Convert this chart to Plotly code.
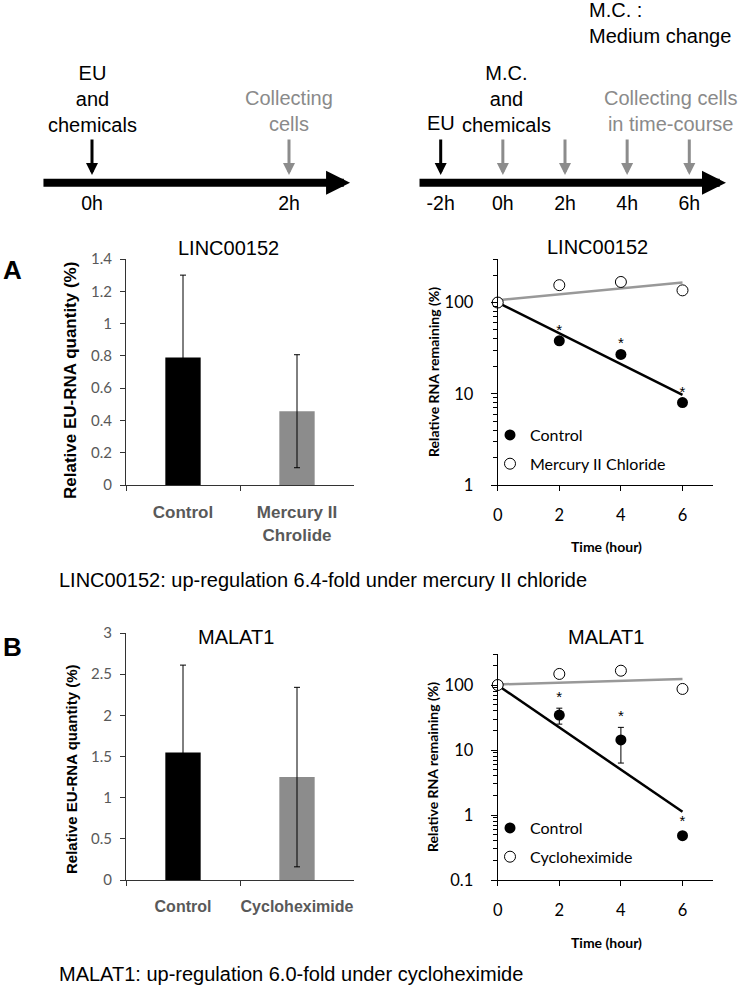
import plotly.graph_objects as go

W, H = 740, 986
ARIAL = "Liberation Sans, Arial, sans-serif"
CALI = "Lato, Carlito, sans-serif"
BLACK = "#000000"
GRAY = "#8c8c8c"
TICKGRAY = "#595959"

# ---------------- data ----------------
# timelines
timeline_A_hours = [0, 2]
timeline_A_ticks = ["0h", "2h"]
timeline_A_labels = ["EU<br>and<br>chemicals", "Collecting<br>cells"]
timeline_A_colors = [BLACK, GRAY]

timeline_B_hours = [-2, 0, 2, 4, 6]
timeline_B_ticks = ["-2h", "0h", "2h", "4h", "6h"]
timeline_B_colors = [BLACK, GRAY, GRAY, GRAY, GRAY]

# bar charts
bar_categories_A = ["Control", "Mercury II<br>Chrolide"]
bar_values_A = [0.79, 0.457]
bar_err_A = [0.51, 0.35]

bar_categories_B = ["Control", "Cycloheximide"]
bar_values_B = [1.55, 1.25]
bar_err_B = [1.06, 1.09]

# decay curves
time_hours = [0, 2, 4, 6]
stars = ["", "*", "*", "*"]
A_control = [100, 38, 27, 8.0]
A_control_err = [0, 0, 0, 0]
A_mercury = [100, 155, 168, 136]
trend_x = [0, 6]
A_control_trend = [100, 9.7]
A_mercury_trend = [106, 166]

B_control = [100, 34.5, 14.3, 0.48]
B_control_err = [0, 9.5, 8.0, 0.06]
B_cyclo = [100, 148, 166, 87]
B_control_trend = [99, 1.12]
B_cyclo_trend = [102, 124]


def fx(px):
    return px / W


def fy(py):
    return 1 - py / H


fig = go.Figure()

# ---------------- bar charts ----------------
for cats, vals, errs, xa, ya in [
    (bar_categories_A, bar_values_A, bar_err_A, "x", "y"),
    (bar_categories_B, bar_values_B, bar_err_B, "x3", "y3"),
]:
    fig.add_trace(go.Bar(
        x=cats, y=vals, xaxis=xa, yaxis=ya, showlegend=False,
        marker=dict(color=[BLACK, GRAY], line=dict(width=0)),
        error_y=dict(type="data", array=errs, color="black", thickness=1, width=3),
    ))

# ---------------- decay curves ----------------
def add_decay(xa, ya, ctrl, ctrl_err, show_err, other, ctrl_tr, other_tr, other_name, legend):
    fig.add_trace(go.Scatter(x=trend_x, y=ctrl_tr, mode="lines", xaxis=xa, yaxis=ya,
                             line=dict(color="black", width=2.5), showlegend=False,
                             hoverinfo="skip"))
    fig.add_trace(go.Scatter(x=trend_x, y=other_tr, mode="lines", xaxis=xa, yaxis=ya,
                             line=dict(color="#999999", width=2.5), showlegend=False,
                             hoverinfo="skip"))
    fig.add_trace(go.Scatter(
        x=time_hours, y=ctrl, mode="markers", name="Control", xaxis=xa, yaxis=ya,
        legend=legend, legendgroup=legend + "c", cliponaxis=False,
        marker=dict(symbol="circle", size=11, color="black"),
        error_y=dict(type="data", array=ctrl_err, color="black", thickness=1, width=3,
                     visible=show_err),
    ))
    fig.add_trace(go.Scatter(
        x=time_hours, y=other, mode="markers", name=other_name, xaxis=xa, yaxis=ya,
        legend=legend, legendgroup=legend + "o", cliponaxis=False,
        marker=dict(symbol="circle", size=11, color="white", line=dict(color="black", width=1)),
    ))
    # significance stars sit just above each control point / its error bar
    star_y = [v + e for v, e in zip(ctrl, ctrl_err)]
    fig.add_trace(go.Scatter(
        x=time_hours, y=star_y, mode="markers+text", text=stars, textposition="top center",
        textfont=dict(family=ARIAL, size=15, color="black"), xaxis=xa, yaxis=ya,
        marker=dict(size=2, color="rgba(0,0,0,0)"), showlegend=False, cliponaxis=False,
        hoverinfo="skip",
    ))


add_decay("x2", "y2", A_control, A_control_err, False, A_mercury, A_control_trend,
          A_mercury_trend, "Mercury II Chloride", "legend")
add_decay("x4", "y4", B_control, B_control_err, True, B_cyclo, B_control_trend,
          B_cyclo_trend, "Cycloheximide", "legend2")

# ---------------- timelines ----------------
fig.add_trace(go.Scatter(x=timeline_A_hours, y=[205] * len(timeline_A_hours), mode="text",
                         text=timeline_A_ticks, xaxis="x5", yaxis="y5", showlegend=False,
                         textfont=dict(family=ARIAL, size=19.5, color="black"),
                         hoverinfo="skip"))
fig.add_trace(go.Scatter(x=timeline_B_hours, y=[205] * len(timeline_B_hours), mode="text",
                         text=timeline_B_ticks, xaxis="x6", yaxis="y6", showlegend=False,
                         textfont=dict(family=ARIAL, size=19.5, color="black"),
                         hoverinfo="skip"))

annotations = []

# main arrows
for xr, yr, x0, x1 in [("x5", "y5", -0.508, 2.62), ("x6", "y6", -2.73, 7.18)]:
    annotations.append(dict(
        x=x1, y=182.7, xref=xr, yref=yr, ax=x0, ay=182.7, axref=xr, ayref=yr,
        text="", showarrow=True, arrowhead=2, arrowsize=0.6, arrowwidth=8,
        arrowcolor="black", standoff=0, startstandoff=0))

# small down arrows
for xr, yr, hrs, cols in [("x5", "y5", timeline_A_hours, timeline_A_colors),
                          ("x6", "y6", timeline_B_hours, timeline_B_colors)]:
    for h, c in zip(hrs, cols):
        annotations.append(dict(
            x=h, y=175, xref=xr, yref=yr, ax=0, ay=-37, text="", showarrow=True,
            arrowhead=2, arrowsize=0.8, arrowwidth=3, arrowcolor=c, standoff=0))

tl_font = dict(family=ARIAL, size=20, color="black")
tl_gray = dict(family=ARIAL, size=20, color="#8a8a8a")
annotations += [
    dict(x=timeline_A_hours[0], y=98.5, xref="x5", yref="y5", text=timeline_A_labels[0],
         showarrow=False, font=tl_font, align="center"),
    dict(x=timeline_A_hours[1], y=111, xref="x5", yref="y5", text=timeline_A_labels[1],
         showarrow=False, font=tl_gray, align="center"),
    dict(x=-2, y=123, xref="x6", yref="y6", text="EU", showarrow=False, font=tl_font),
    dict(x=0.13, y=99, xref="x6", yref="y6", text="M.C.<br>and<br>chemicals",
         showarrow=False, font=tl_font, align="center"),
    dict(x=5.41, y=110.7, xref="x6", yref="y6", text="Collecting cells<br>in time-course",
         showarrow=False, font=tl_gray, align="center"),
    dict(x=2.71, y=23, xref="x6", yref="y6", text="M.C. :<br>Medium change",
         showarrow=False, font=tl_font, align="left", xanchor="left"),
]


def ptext(x, y, text, font, **kw):
    d = dict(x=fx(x), y=fy(y), xref="paper", yref="paper", text=text, showarrow=False,
             font=font, xanchor="center", yanchor="middle")
    d.update(kw)
    return d


# titles / labels
title_font = dict(family=ARIAL, size=20, color="black")
small_bold = dict(family=CALI, size=14, color="black")
annotations += [
    ptext(228, 248, "LINC00152", title_font),
    ptext(597, 247, "LINC00152", title_font),
    ptext(236, 637, "MALAT1", title_font),
    ptext(606, 637, "MALAT1", title_font),
    ptext(12, 270, "<b>A</b>", dict(family=ARIAL, size=26, color="black")),
    ptext(12, 647, "<b>B</b>", dict(family=ARIAL, size=26, color="black")),
    ptext(57, 580, "LINC00152: up-regulation 6.4-fold under mercury II chloride",
          dict(family=ARIAL, size=20, color="black"), xanchor="left"),
    ptext(57, 974, "MALAT1: up-regulation 6.0-fold under cycloheximide",
          dict(family=ARIAL, size=20, color="black"), xanchor="left"),
    # axis titles
    ptext(70, 381, "<b>Relative EU-RNA quantity (%)</b>",
          dict(family=ARIAL, size=17, color="black"), textangle=-90),
    ptext(71, 770, "<b>Relative EU-RNA quantity (%)</b>",
          dict(family=ARIAL, size=15, color="black"), textangle=-90),
    ptext(433, 372, "<b>Relative RNA remaining (%)</b>", small_bold, textangle=-90),
    ptext(432, 767, "<b>Relative RNA remaining (%)</b>", small_bold, textangle=-90),
    ptext(606, 546, "<b>Time (hour)</b>", small_bold),
    ptext(606, 942, "<b>Time (hour)</b>", small_bold),
]

# ---------------- axes ----------------
bar_x_dom = [fx(126), fx(354)]
line_x_dom = [fx(497.7), fx(713.3)]
A_dom = [fy(485), fy(259)]
B_bar_dom = [fy(880), fy(633)]
B_line_dom = [fy(880), fy(654)]


def bar_xaxis(anchor, size):
    return dict(domain=bar_x_dom, anchor=anchor, showline=True, linecolor="#333333",
                linewidth=1, ticks="outside", ticklen=5, tickcolor="#333333",
                tickson="boundaries", showgrid=False, zeroline=False, tickangle=0,
                tickfont=dict(family=ARIAL, size=size, color=TICKGRAY, weight="bold"),
                ticklabelstandoff=12, fixedrange=True, automargin=False)


def bar_yaxis(anchor, dom, rng, dt):
    return dict(domain=dom, anchor=anchor, range=rng, dtick=dt, showline=True,
                linecolor="#333333", linewidth=1, ticks="outside", ticklen=5,
                tickcolor="#333333", showgrid=False, zeroline=False,
                tickfont=dict(family=CALI, size=15, color=TICKGRAY),
                ticklabelstandoff=5, fixedrange=True, automargin=False)


def minor_vals(lo_exp, hi):
    vals = []
    for e in range(lo_exp, 3):
        for m in range(2, 10):
            v = m * 10 ** e
            if v <= hi:
                vals.append(v)
    return vals


def line_xaxis(anchor):
    return dict(domain=line_x_dom, anchor=anchor, range=[0, 7], dtick=2, tick0=0,
                showline=True, linecolor="black", linewidth=1.2, ticks="outside",
                ticklen=5, tickcolor="black", showgrid=False, zeroline=False,
                tickfont=dict(family=CALI, size=16.5, color="black"),
                ticklabelstandoff=10, fixedrange=True, automargin=False)


def line_yaxis(anchor, dom, lo_exp, tickv):
    return dict(domain=dom, anchor=anchor, type="log", range=[lo_exp, 2.4771],
                tickmode="array", tickvals=tickv, ticktext=[str(v) for v in tickv],
                showline=True, linecolor="black", linewidth=1.2, ticks="outside",
                ticklen=6, tickcolor="black", showgrid=False, zeroline=False,
                minor=dict(tickmode="array", tickvals=minor_vals(lo_exp, 300),
                           ticks="outside", ticklen=4, tickcolor="black", tickwidth=1,
                           showgrid=False),
                tickfont=dict(family=CALI, size=16.5, color="black"),
                ticklabelstandoff=14, fixedrange=True, automargin=False)


hidden = dict(visible=False, showgrid=False, zeroline=False, fixedrange=True)

layout = dict(
    width=W, height=H, margin=dict(l=0, r=0, t=0, b=0, autoexpand=False),
    paper_bgcolor="white", plot_bgcolor="white",
    bargap=0.69, showlegend=True,
    xaxis=bar_xaxis("y", 17),
    yaxis=bar_yaxis("x", A_dom, [0, 1.4], 0.2),
    xaxis2=line_xaxis("y2"),
    yaxis2=line_yaxis("x2", A_dom, 0, [1, 10, 100]),
    xaxis3=bar_xaxis("y3", 16),
    yaxis3=bar_yaxis("x3", B_bar_dom, [0, 3], 0.5),
    xaxis4=line_xaxis("y4"),
    yaxis4=line_yaxis("x4", B_line_dom, -1, [0.1, 1, 10, 100]),
    xaxis5=dict(domain=[0, 0.5], anchor="y5", range=[-92 / 98.5, 278 / 98.5], **hidden),
    yaxis5=dict(domain=[fy(220), 1], anchor="x5", range=[220, 0], **hidden),
    xaxis6=dict(domain=[0.5, 1], anchor="y6",
                range=[-2 - 70.7 / 31.075, 6 + 50.7 / 31.075], **hidden),
    yaxis6=dict(domain=[fy(220), 1], anchor="x6", range=[220, 0], **hidden),
    legend=dict(x=fx(490), y=fy(418), xanchor="left", yanchor="top",
                bgcolor="rgba(0,0,0,0)", font=dict(family=CALI, size=16, color="black"),
                itemwidth=30, tracegroupgap=5),
    legend2=dict(x=fx(490), y=fy(811), xanchor="left", yanchor="top",
                 bgcolor="rgba(0,0,0,0)", font=dict(family=CALI, size=16, color="black"),
                 itemwidth=30, tracegroupgap=5),
    annotations=annotations,
)
fig.update_layout(**layout)

fig.write_html("out.html",
               config={"displayModeBar": False},
               post_script="document.body.style.margin='0px';")
